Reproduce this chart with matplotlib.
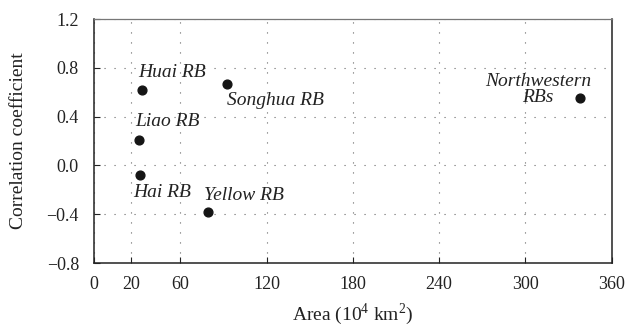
import matplotlib.pyplot as plt

# river basins: area (10^4 km2) vs correlation coefficient
basins = ['Huai RB', 'Songhua RB', 'Liao RB', 'Hai RB', 'Yellow RB', 'Northwestern\nRBs']
area = [33.2, 92.3, 31.3, 32.0, 79.5, 338.3]
corr = [0.618, 0.665, 0.208, -0.079, -0.382, 0.555]

x_ticks = [0, 25.7, 60, 120, 180, 240, 300, 360]
x_tick_labels = ['0', '20', '60', '120', '180', '240', '300', '360']
y_ticks = [-0.8, -0.4, 0.0, 0.4, 0.8, 1.2]
y_tick_labels = ['\u22120.8', '\u22120.4', '0.0', '0.4', '0.8', '1.2']

plt.rcParams['font.family'] = ['Liberation Serif', 'DejaVu Serif']
plt.rcParams['mathtext.fontset'] = 'custom'
plt.rcParams['mathtext.rm'] = 'Liberation Serif'

fig = plt.figure(figsize=(6.28, 3.28), dpi=100)
ax = fig.add_axes([0.150, 0.198, 0.824, 0.744])

ax.scatter(area, corr, s=40, color='#151515', zorder=3)

# label offsets (data units) and alignment for each basin
offsets = [(-2.6, 0.14, 'left'), (0.0, -0.13, 'left'), (-2.8, 0.15, 'left'),
           (-4.7, -0.14, 'left'), (-3.0, 0.134, 'left'), (-29.4, 0.065, 'center')]
for name, x, y, (dx, dy, ha) in zip(basins, area, corr, offsets):
    ax.text(x + dx, y + dy, name, style='italic', fontsize=14, ha=ha,
            va='center', color='#222222', linespacing=0.9)

ax.set_xlim(0, 360)
ax.set_ylim(-0.8, 1.2)
ax.set_xticks(x_ticks)
ax.set_xticklabels(x_tick_labels)
ax.set_yticks(y_ticks)
ax.set_yticklabels(y_tick_labels)

ax.grid(True, linestyle=(0, (1, 8)), color='#666666', linewidth=0.8)
ax.tick_params(direction='in', length=4, labelsize=13, colors='#222222')
ax.tick_params(axis='x', pad=9)
ax.tick_params(axis='y', pad=11)

for side in ['left', 'bottom', 'right']:
    ax.spines[side].set_linewidth(1.1)
    ax.spines[side].set_color('#222222')
ax.spines['top'].set_color('#777777')
ax.spines['top'].set_linewidth(0.9)

ax.set_xlabel('Area (10$^4$ km$^2$)', fontsize=14, color='#222222', labelpad=6)
ax.set_ylabel('Correlation coefficient', fontsize=14, color='#222222', labelpad=14)

plt.savefig('out.png', dpi=100)
plt.close(fig)
